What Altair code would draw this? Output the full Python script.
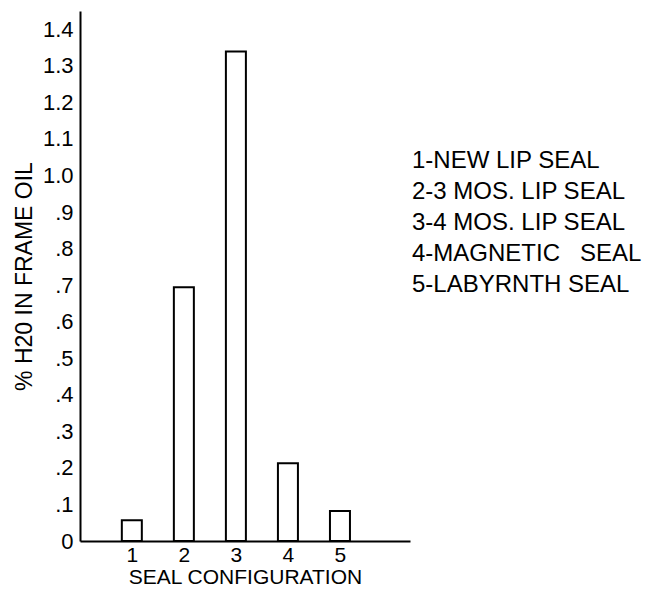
import altair as alt
import pandas as pd

configs = [1, 2, 3, 4, 5]
h2o_pct = [0.057, 0.694, 1.339, 0.213, 0.082]
legend_lines = [
    "\u00a01-NEW LIP SEAL",
    "2-3 MOS. LIP SEAL",
    "3-4 MOS. LIP SEAL",
    "4-MAGNETIC\u00a0\u00a0\u00a0SEAL",
    "5-LABYRNTH SEAL",
]
y_ticks = [0, 0.1, 0.2, 0.3, 0.4, 0.5, 0.6, 0.7, 0.8, 0.9, 1.0, 1.1, 1.2, 1.3, 1.4]

FONT = "Liberation Sans"

bars_df = pd.DataFrame({"config": configs, "pct": h2o_pct})
leg_df = pd.DataFrame({"label": legend_lines})

bars = alt.Chart(bars_df).mark_bar(
    size=20, fill="white", stroke="black", strokeWidth=2
).encode(
    x=alt.X(
        "config:Q",
        scale=alt.Scale(domain=[0.1, 6.25], nice=False, zero=False),
        axis=alt.Axis(
            values=configs, ticks=False, grid=False, domainColor="black",
            domainWidth=2, labelFontSize=21, labelFont=FONT, labelColor="black",
            labelPadding=3, title="SEAL CONFIGURATION", titleFontSize=21,
            titleFont=FONT, titleFontWeight="normal", titleColor="black",
            titlePadding=1,
        ),
    ),
    y=alt.Y(
        "pct:Q",
        scale=alt.Scale(domain=[0, 1.45], nice=False),
        axis=alt.Axis(
            values=y_ticks, ticks=False, grid=False, domainColor="black",
            domainWidth=2, labelFontSize=22, labelFont=FONT, labelColor="black",
            labelPadding=7,
            labelExpr="datum.value == 0 ? '0' : (datum.value >= 0.99 ? format(datum.value, '.1f') : replace(format(datum.value, '.1f'), '0.', '.'))",
            title="% H20 IN FRAME OIL", titleFontSize=23, titleFont=FONT,
            titleFontWeight="normal", titleColor="black", titlePadding=6,
        ),
    ),
)

legend_layer = alt.Chart(leg_df).mark_point(opacity=0).encode(
    color=alt.Color(
        "label:N",
        scale=alt.Scale(domain=legend_lines, range=["black"] * 5),
        legend=alt.Legend(
            title=None, orient="none", legendX=308, legendY=138,
            symbolOpacity=0, symbolSize=0, symbolStrokeWidth=0,
            labelFontSize=24, labelFont=FONT, labelColor="black",
            labelLimit=400, rowPadding=7, labelOffset=0,
        ),
    ),
)

chart = alt.layer(bars, legend_layer).properties(
    width=330, height=530,
    autosize=alt.AutoSizeParams(type="none"),
    padding={"left": 72, "top": 3, "right": 237, "bottom": 46},
    background="white",
).configure_view(stroke=None)

chart.save("out.html", embed_options={"renderer": "svg", "actions": False})
